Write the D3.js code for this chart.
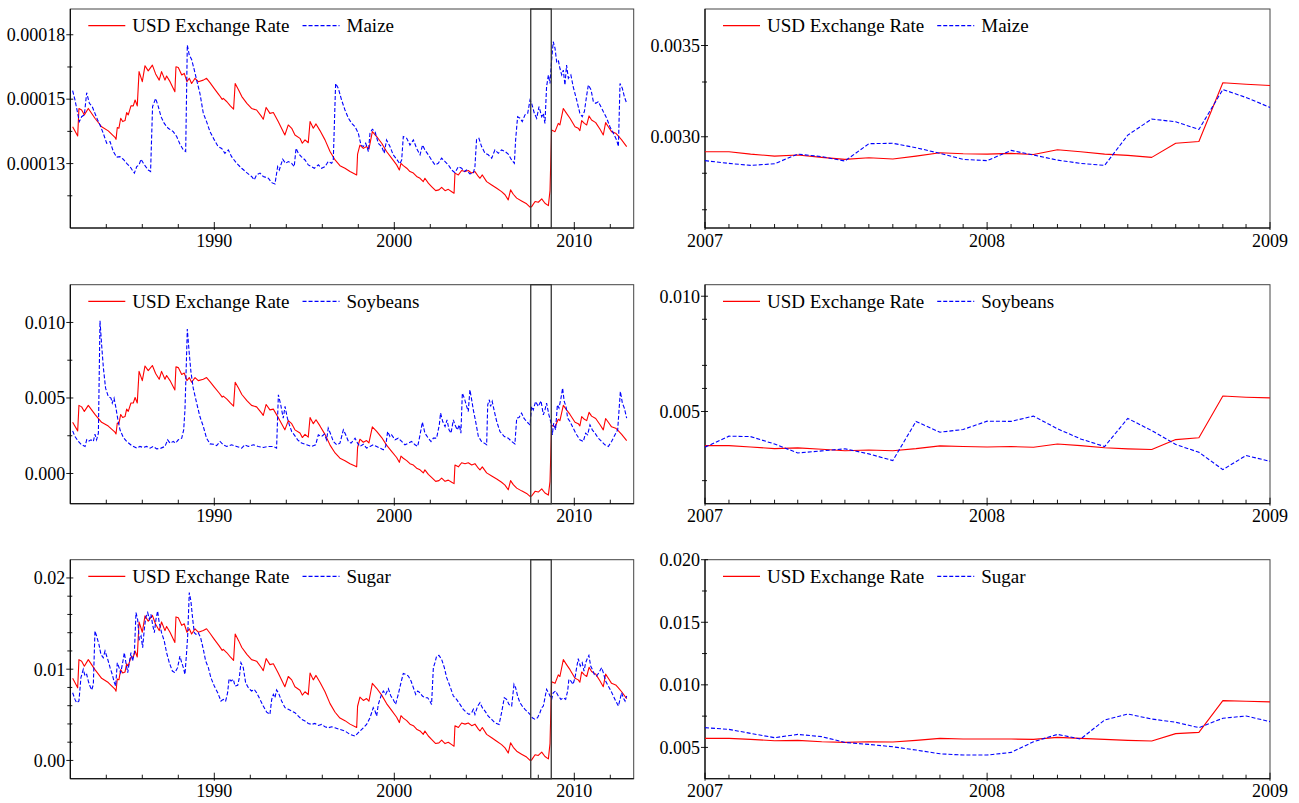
<!DOCTYPE html>
<html>
<head>
<meta charset="utf-8">
<script src="https://cdn.jsdelivr.net/npm/d3@7"></script>
<style>
  body { margin: 0; background: #fff; }
  svg { display: block; font-family: "Liberation Serif", "Times New Roman", serif; }
</style>
</head>
<body>
<svg id="chart" width="1299" height="803"></svg>
<script>
// ---------- Full sample, 1982-2012 (decimal years) ----------
const usdYears = [
  1982.13,1982.41,1982.48,1982.63,1982.78,1983.00,1983.37,1983.74,1984.11,1984.48,
  1984.54,1984.61,1984.70,1984.80,1984.91,1985.04,1985.13,1985.22,1985.37,1985.50,
  1985.60,1985.72,1985.82,1986.00,1986.15,1986.33,1986.56,1986.74,1986.94,1987.07,
  1987.26,1987.35,1987.54,1987.81,1987.87,1988.00,1988.19,1988.33,1988.48,1988.61,
  1988.74,1988.93,1989.11,1989.39,1989.57,1989.76,1989.99,1990.27,1990.44,1990.50,
  1990.70,1990.89,1991.07,1991.16,1991.35,1991.53,1991.81,1992.07,1992.35,1992.63,
  1992.72,1992.88,1993.09,1993.28,1993.55,1993.92,1994.11,1994.30,1994.48,1994.76,
  1994.89,1995.04,1995.22,1995.32,1995.50,1995.65,1995.87,1996.15,1996.43,1996.71,
  1996.98,1997.26,1997.54,1997.91,1997.96,1998.09,1998.28,1998.46,1998.59,1998.78,
  1999.02,1999.30,1999.57,1999.85,2000.13,2000.28,2000.37,2000.50,2000.69,2000.87,
  2001.06,2001.24,2001.43,2001.61,2001.70,2001.89,2002.07,2002.30,2002.48,2002.63,
  2002.82,2003.00,2003.19,2003.32,2003.37,2003.56,2003.74,2003.93,2004.11,2004.30,
  2004.48,2004.67,2004.76,2004.89,2005.13,2005.41,2005.69,2005.96,2006.15,2006.33,
  2006.46,2006.61,2006.80,2007.07,2007.35,2007.54,2007.63,2007.82,2008.00,2008.19,
  2008.37,2008.56,2008.65,2008.74,2008.93,2009.11,2009.20,2009.39,2009.57,2009.76,
  2010.04,2010.22,2010.31,2010.41,2010.56,2010.69,2010.82,2010.96,2011.19,2011.43,
  2011.61,2011.74,2011.89,2012.07,2012.30,2012.45,2012.63,2012.91
];

// USD exchange rate on the maize axis (units of 1e-5)
const usdMaize = [
  13.93,13.57,14.64,14.58,14.39,14.64,14.26,13.93,13.77,13.52,
  13.44,13.90,13.87,14.26,14.13,14.17,14.48,14.39,14.74,14.74,
  14.97,14.74,16.07,15.68,16.30,16.10,16.32,15.98,15.74,16.07,
  15.74,15.90,15.68,15.29,16.26,16.23,15.94,16.00,15.68,15.81,
  15.61,15.81,15.68,15.74,15.81,15.64,15.42,15.16,14.99,15.03,
  14.90,14.74,14.61,15.61,15.36,15.10,14.84,14.64,14.58,14.32,
  14.22,14.68,14.45,14.48,14.13,13.61,14.00,13.87,13.61,13.48,
  13.29,13.42,13.31,14.13,13.87,14.04,13.78,13.42,12.97,12.64,
  12.42,12.32,12.19,12.06,12.87,13.22,13.09,13.16,13.06,13.74,
  13.55,13.29,12.97,12.71,12.45,12.25,12.51,12.42,12.32,12.19,
  12.13,12.00,11.93,11.80,11.93,11.74,11.61,11.45,11.48,11.58,
  11.45,11.50,11.41,11.35,12.13,12.06,12.23,12.19,12.23,12.13,
  12.19,12.00,11.93,12.06,11.80,11.67,11.54,11.41,11.29,11.09,
  11.48,11.31,11.16,11.05,10.94,10.81,10.83,11.03,11.00,11.13,
  10.96,10.87,11.45,13.80,13.74,14.06,14.00,14.64,14.45,14.26,
  13.93,13.87,13.78,14.17,14.06,14.00,14.35,14.19,14.09,13.83,
  13.61,14.09,13.93,13.74,13.68,13.57,13.42,13.16
];

// USD exchange rate on the soybeans axis (units of 1e-3)
const usdSoy = [
  3.39,2.82,4.51,4.41,4.11,4.51,3.91,3.39,3.14,2.74,
  2.62,3.34,3.30,3.91,3.71,3.77,4.26,4.11,4.67,4.67,
  5.03,4.67,6.76,6.15,7.12,6.81,7.15,6.62,6.24,6.76,
  6.24,6.49,6.15,5.53,7.06,7.01,6.56,6.65,6.15,6.35,
  6.04,6.35,6.15,6.24,6.35,6.08,5.74,5.33,5.06,5.12,
  4.92,4.67,4.46,6.04,5.64,5.23,4.82,4.51,4.41,4.00,
  3.85,4.57,4.21,4.26,3.71,2.89,3.50,3.30,2.89,2.68,
  2.38,2.59,2.41,3.71,3.30,3.56,3.15,2.59,1.88,1.36,
  1.01,0.85,0.65,0.44,1.72,2.27,2.07,2.18,2.02,3.09,
  2.79,2.38,1.88,1.47,1.06,0.74,1.15,1.01,0.85,0.65,
  0.56,0.35,0.24,0.04,0.24,-0.06,-0.26,-0.52,-0.47,-0.31,
  -0.52,-0.44,-0.58,-0.67,0.56,0.44,0.71,0.65,0.71,0.56,
  0.65,0.35,0.24,0.44,0.04,-0.17,-0.37,-0.58,-0.77,-1.08,
  -0.47,-0.74,-0.97,-1.15,-1.32,-1.52,-1.49,-1.18,-1.23,-1.02,
  -1.29,-1.43,-0.52,3.19,3.09,3.59,3.50,4.51,4.21,3.91,
  3.39,3.30,3.15,3.77,3.59,3.50,4.05,3.80,3.64,3.23,
  2.89,3.64,3.39,3.09,3.00,2.82,2.59,2.18
];

// USD exchange rate on the sugar axis (units of 1e-3)
const usdSugar = [
  9.00,7.96,11.05,10.88,10.33,11.05,9.95,9.00,8.54,7.82,
  7.59,8.92,8.83,9.95,9.58,9.70,10.59,10.33,11.34,11.34,
  12.00,11.34,15.18,14.05,15.84,15.26,15.90,14.92,14.23,15.18,
  14.23,14.69,14.05,12.93,15.73,15.64,14.80,14.98,14.05,14.43,
  13.85,14.43,14.05,14.23,14.43,13.94,13.30,12.55,12.06,12.18,
  11.80,11.34,10.96,13.85,13.13,12.38,11.63,11.05,10.88,10.13,
  9.84,11.17,10.50,10.59,9.58,8.08,9.20,8.83,8.08,7.70,
  7.16,7.53,7.21,9.58,8.83,9.32,8.57,7.53,6.23,5.28,
  4.64,4.36,3.98,3.61,5.94,6.95,6.58,6.78,6.49,8.45,
  7.91,7.16,6.23,5.48,4.73,4.15,4.90,4.64,4.36,3.98,
  3.81,3.43,3.23,2.86,3.23,2.68,2.31,1.85,1.93,2.22,
  1.85,1.99,1.73,1.56,3.81,3.61,4.10,3.98,4.10,3.81,
  3.98,3.43,3.23,3.61,2.86,2.48,2.10,1.73,1.38,0.81,
  1.93,1.44,1.01,0.69,0.37,0.00,0.06,0.63,0.55,0.92,
  0.43,0.17,1.85,8.63,8.45,9.38,9.20,11.05,10.50,9.95,
  9.00,8.83,8.57,9.70,9.38,9.20,10.21,9.75,9.46,8.71,
  8.08,9.46,9.00,8.45,8.28,7.96,7.53,6.78
];

// Maize, [year, value x1e-5]
const maize = [
  [1982.13,15.33],[1982.26,14.97],[1982.41,14.45],[1982.50,14.13],[1982.63,14.32],[1982.78,14.39],
  [1982.91,15.25],[1983.06,14.84],[1983.22,14.71],[1983.37,14.45],[1983.52,14.19],[1983.65,14.00],
  [1983.83,13.68],[1984.02,13.29],[1984.21,13.35],[1984.39,12.97],[1984.57,12.75],[1984.76,12.77],
  [1984.94,12.67],[1985.13,12.51],[1985.32,12.38],[1985.44,12.25],[1985.56,12.13],[1985.69,12.38],
  [1985.82,12.45],[1985.93,12.67],[1986.06,12.51],[1986.19,12.38],[1986.33,12.25],[1986.46,12.19],
  [1986.57,14.71],[1986.74,15.03],[1986.89,14.71],[1987.04,14.32],[1987.22,14.06],[1987.44,13.87],
  [1987.72,13.74],[1987.91,13.55],[1988.09,13.26],[1988.28,13.03],[1988.41,12.97],[1988.50,17.10],
  [1988.61,16.71],[1988.74,16.54],[1988.89,16.13],[1989.02,15.74],[1989.20,15.23],[1989.39,14.45],
  [1989.57,14.13],[1989.76,13.74],[1990.00,13.42],[1990.21,13.16],[1990.41,13.09],[1990.59,12.90],
  [1990.78,13.03],[1990.96,12.77],[1991.24,12.51],[1991.52,12.32],[1991.80,12.15],[1992.07,12.00],
  [1992.22,11.87],[1992.35,12.06],[1992.54,12.13],[1992.72,12.00],[1993.00,11.93],[1993.19,11.76],
  [1993.37,11.71],[1993.52,12.38],[1993.61,12.25],[1993.80,12.67],[1993.96,12.51],[1994.11,12.58],
  [1994.30,12.51],[1994.44,12.38],[1994.54,13.09],[1994.67,12.90],[1994.83,12.77],[1995.04,12.64],
  [1995.22,12.45],[1995.41,12.38],[1995.56,12.32],[1995.78,12.45],[1995.96,12.32],[1996.15,12.38],
  [1996.33,12.58],[1996.52,12.51],[1996.61,12.64],[1996.74,15.61],[1996.89,15.42],[1997.07,14.97],
  [1997.26,14.58],[1997.45,14.26],[1997.65,14.05],[1997.82,13.93],[1998.00,13.68],[1998.15,13.22],
  [1998.28,13.16],[1998.41,13.29],[1998.56,12.97],[1998.65,13.68],[1998.78,13.83],[1998.93,13.74],
  [1999.11,13.29],[1999.30,13.16],[1999.44,12.90],[1999.57,13.42],[1999.76,13.16],[1999.94,12.84],
  [2000.13,12.67],[2000.31,12.49],[2000.41,12.64],[2000.50,13.55],[2000.69,13.48],[2000.87,13.22],
  [2001.06,13.42],[2001.24,13.09],[2001.43,12.84],[2001.57,13.22],[2001.70,13.03],[2001.89,12.84],
  [2002.07,12.64],[2002.26,12.45],[2002.44,12.51],[2002.63,12.71],[2002.82,12.58],[2003.00,12.45],
  [2003.19,12.25],[2003.37,12.15],[2003.56,12.38],[2003.74,12.32],[2003.89,12.19],[2004.02,12.25],
  [2004.20,12.10],[2004.39,12.13],[2004.48,12.38],[2004.57,13.44],[2004.70,13.48],[2004.85,13.16],
  [2005.04,12.90],[2005.22,12.84],[2005.41,12.71],[2005.59,13.03],[2005.78,12.90],[2005.96,13.03],
  [2006.15,12.97],[2006.33,12.87],[2006.52,12.64],[2006.67,12.51],[2006.74,13.42],[2006.85,14.32],
  [2006.98,14.26],[2007.11,14.13],[2007.26,14.39],[2007.41,14.45],[2007.54,14.97],[2007.63,14.84],
  [2007.78,14.45],[2007.91,14.26],[2008.04,14.71],[2008.19,14.32],[2008.28,14.45],[2008.37,14.06],
  [2008.46,15.48],[2008.56,15.94],[2008.65,15.61],[2008.74,16.52],[2008.83,17.23],[2008.93,16.97],
  [2009.02,16.45],[2009.11,16.52],[2009.20,16.20],[2009.30,15.94],[2009.39,16.13],[2009.48,15.55],
  [2009.57,16.32],[2009.67,15.81],[2009.81,15.94],[2009.94,15.48],[2010.13,14.97],[2010.31,14.45],
  [2010.44,14.32],[2010.56,14.52],[2010.69,15.16],[2010.78,15.55],[2010.93,15.36],[2011.06,14.90],
  [2011.19,14.84],[2011.33,14.90],[2011.48,14.71],[2011.61,14.52],[2011.80,14.26],[2011.98,13.93],
  [2012.17,13.68],[2012.35,13.42],[2012.45,13.16],[2012.54,15.61],[2012.67,15.42],[2012.78,15.10],
  [2012.91,14.84]
];

// Soybeans, [year, value x1e-3]
const soybeans = [
  [1982.13,2.82],[1982.26,2.45],[1982.45,2.12],[1982.63,1.90],[1982.82,1.79],[1982.91,2.23],
  [1983.00,2.12],[1983.15,2.23],[1983.28,2.12],[1983.37,2.60],[1983.46,2.23],[1983.56,2.67],
  [1983.65,10.11],[1983.74,8.52],[1983.84,6.97],[1983.96,5.65],[1984.11,5.10],[1984.26,4.99],
  [1984.33,4.66],[1984.43,4.99],[1984.52,4.44],[1984.63,3.66],[1984.76,2.89],[1984.95,2.38],
  [1985.13,2.12],[1985.41,1.85],[1985.69,1.68],[1985.87,1.79],[1986.06,1.72],[1986.24,1.79],
  [1986.43,1.68],[1986.61,1.79],[1986.80,1.63],[1987.04,1.68],[1987.26,1.79],[1987.41,2.23],
  [1987.54,2.01],[1987.72,2.12],[1987.85,2.01],[1988.00,2.23],[1988.19,2.34],[1988.30,2.89],
  [1988.37,4.21],[1988.45,7.42],[1988.50,9.56],[1988.60,8.08],[1988.70,6.75],[1988.83,5.65],
  [1989.02,4.66],[1989.20,3.77],[1989.39,3.11],[1989.57,2.34],[1989.76,1.96],[1989.95,1.94],
  [1990.13,1.85],[1990.32,2.12],[1990.50,1.90],[1990.69,1.79],[1990.96,1.90],[1991.24,1.79],
  [1991.52,1.68],[1991.70,1.90],[1991.89,1.79],[1992.17,1.90],[1992.44,1.79],[1992.72,1.72],
  [1993.00,1.79],[1993.28,1.79],[1993.46,1.68],[1993.56,5.21],[1993.69,4.55],[1993.83,3.66],
  [1993.93,4.44],[1994.06,3.66],[1994.17,3.22],[1994.30,2.78],[1994.44,2.56],[1994.63,2.23],
  [1994.85,2.01],[1995.13,1.90],[1995.41,1.79],[1995.63,1.90],[1995.78,2.56],[1995.96,2.45],
  [1996.11,2.60],[1996.24,2.23],[1996.33,3.00],[1996.48,2.56],[1996.61,2.12],[1996.80,1.90],
  [1996.98,2.01],[1997.17,2.89],[1997.30,2.56],[1997.45,2.12],[1997.60,2.01],[1997.82,2.34],
  [1997.96,2.01],[1998.09,1.79],[1998.28,1.94],[1998.46,1.68],[1998.65,1.79],[1998.83,1.90],
  [1999.02,1.79],[1999.20,1.68],[1999.39,1.57],[1999.52,1.79],[1999.63,2.78],[1999.76,2.45],
  [1999.85,2.56],[2000.04,2.23],[2000.22,2.34],[2000.41,2.12],[2000.59,1.90],[2000.78,2.01],
  [2000.96,2.12],[2001.15,1.90],[2001.30,1.79],[2001.43,2.56],[2001.56,3.40],[2001.70,2.67],
  [2001.89,2.34],[2002.04,2.12],[2002.17,2.34],[2002.35,2.34],[2002.50,3.22],[2002.57,4.00],
  [2002.69,3.44],[2002.82,3.11],[2002.93,3.55],[2003.04,2.89],[2003.15,2.67],[2003.28,3.55],
  [2003.37,3.22],[2003.50,2.89],[2003.61,3.22],[2003.70,2.67],[2003.78,5.32],[2003.89,4.99],
  [2004.02,4.44],[2004.11,4.10],[2004.20,5.54],[2004.30,4.88],[2004.39,4.21],[2004.52,3.44],
  [2004.67,2.45],[2004.85,2.12],[2005.00,2.01],[2005.13,1.90],[2005.19,4.55],[2005.28,4.88],
  [2005.35,4.44],[2005.44,4.77],[2005.56,4.10],[2005.69,3.44],[2005.87,2.78],[2006.11,2.45],
  [2006.33,2.34],[2006.52,2.12],[2006.70,1.96],[2006.80,3.66],[2006.93,3.71],[2007.07,4.00],
  [2007.20,3.66],[2007.35,3.44],[2007.54,3.22],[2007.63,4.44],[2007.72,4.21],[2007.85,4.77],
  [2008.00,4.44],[2008.15,4.81],[2008.28,3.88],[2008.37,4.21],[2008.46,4.66],[2008.59,3.88],
  [2008.69,3.44],[2008.78,2.56],[2008.85,3.33],[2008.96,2.89],[2009.06,4.55],[2009.15,4.33],
  [2009.26,4.99],[2009.35,5.65],[2009.44,4.77],[2009.54,4.44],[2009.63,3.66],[2009.76,3.44],
  [2009.94,3.00],[2010.13,2.56],[2010.31,2.23],[2010.50,2.12],[2010.63,2.67],[2010.74,2.56],
  [2010.87,3.22],[2011.00,2.89],[2011.15,2.67],[2011.33,2.34],[2011.52,2.12],[2011.70,1.90],
  [2011.89,1.79],[2012.07,2.12],[2012.26,2.56],[2012.41,2.89],[2012.48,4.10],[2012.56,5.43],
  [2012.67,4.66],[2012.78,4.33],[2012.91,3.66]
];

// Sugar, [year, value x1e-3]
const sugar = [
  [1982.13,7.42],[1982.26,6.69],[1982.35,6.33],[1982.48,6.51],[1982.59,9.07],[1982.72,9.98],
  [1982.82,9.25],[1982.91,9.43],[1983.00,8.70],[1983.09,8.15],[1983.19,7.72],[1983.28,8.34],
  [1983.37,14.19],[1983.46,13.64],[1983.59,12.72],[1983.70,11.63],[1983.83,11.26],[1983.93,11.99],
  [1984.08,11.08],[1984.21,10.17],[1984.33,9.43],[1984.45,8.52],[1984.52,8.15],[1984.61,10.71],
  [1984.71,10.17],[1984.80,9.62],[1984.91,10.71],[1985.00,11.81],[1985.09,10.71],[1985.19,9.62],
  [1985.26,10.53],[1985.37,11.81],[1985.46,10.90],[1985.56,11.81],[1985.65,16.20],[1985.74,15.47],
  [1985.83,13.27],[1985.93,13.64],[1986.02,12.36],[1986.11,14.37],[1986.19,15.65],[1986.30,16.20],
  [1986.39,15.47],[1986.48,16.01],[1986.57,14.92],[1986.67,14.00],[1986.76,15.47],[1986.85,16.38],
  [1986.94,15.10],[1987.07,14.00],[1987.22,13.09],[1987.35,11.81],[1987.50,10.71],[1987.67,9.80],
  [1987.81,9.62],[1987.96,10.17],[1988.09,11.44],[1988.19,10.71],[1988.28,10.17],[1988.37,9.43],
  [1988.46,11.81],[1988.52,13.64],[1988.61,18.39],[1988.70,17.48],[1988.80,15.47],[1988.89,14.00],
  [1988.98,13.82],[1989.11,14.00],[1989.24,13.46],[1989.39,12.18],[1989.52,10.90],[1989.67,10.17],
  [1989.81,9.07],[1990.00,8.15],[1990.19,7.42],[1990.37,6.51],[1990.50,6.69],[1990.63,6.51],
  [1990.74,7.42],[1990.82,8.96],[1990.93,8.70],[1991.06,8.89],[1991.15,8.15],[1991.30,8.23],
  [1991.39,9.07],[1991.48,10.71],[1991.61,10.17],[1991.74,8.52],[1991.89,7.97],[1992.07,7.61],
  [1992.22,7.79],[1992.35,7.42],[1992.54,6.69],[1992.72,5.96],[1992.91,5.30],[1993.09,5.05],
  [1993.19,6.69],[1993.28,7.24],[1993.37,6.87],[1993.46,7.72],[1993.56,7.42],[1993.74,6.51],
  [1993.93,5.78],[1994.11,5.60],[1994.30,5.41],[1994.48,5.23],[1994.67,4.86],[1994.85,4.50],
  [1995.04,4.32],[1995.22,4.06],[1995.41,3.95],[1995.59,4.06],[1995.78,3.84],[1995.96,3.95],
  [1996.15,3.69],[1996.33,3.58],[1996.52,3.69],[1996.70,3.58],[1996.98,3.40],[1997.26,3.22],
  [1997.54,2.85],[1997.82,2.67],[1998.00,3.04],[1998.28,3.58],[1998.46,3.95],[1998.65,4.68],
  [1998.83,5.78],[1998.93,5.41],[1999.02,4.86],[1999.11,6.14],[1999.26,7.06],[1999.39,7.61],
  [1999.52,7.24],[1999.67,7.86],[1999.81,7.06],[1999.94,6.69],[2000.07,6.14],[2000.22,7.24],
  [2000.37,8.52],[2000.50,9.54],[2000.63,9.43],[2000.78,9.25],[2000.93,8.70],[2001.06,7.97],
  [2001.19,7.24],[2001.30,7.61],[2001.43,7.42],[2001.56,7.06],[2001.70,6.87],[2001.85,6.87],
  [2001.98,6.51],[2002.07,6.14],[2002.17,10.17],[2002.26,10.71],[2002.35,11.44],[2002.48,11.52],
  [2002.63,11.08],[2002.78,10.17],[2002.91,9.07],[2003.09,8.15],[2003.28,7.06],[2003.46,6.69],
  [2003.65,6.14],[2003.83,5.60],[2004.02,5.23],[2004.15,5.05],[2004.30,5.23],[2004.39,5.60],
  [2004.48,5.05],[2004.63,5.96],[2004.76,6.33],[2004.89,5.78],[2005.04,5.41],[2005.22,4.86],
  [2005.41,4.50],[2005.59,4.13],[2005.82,3.95],[2005.96,5.23],[2006.11,6.87],[2006.24,6.69],
  [2006.37,6.14],[2006.52,5.96],[2006.65,8.34],[2006.74,7.97],[2006.85,7.06],[2006.98,6.33],
  [2007.11,5.96],[2007.26,5.60],[2007.41,5.30],[2007.54,5.05],[2007.67,4.68],[2007.82,4.50],
  [2007.96,4.68],[2008.09,5.23],[2008.19,5.78],[2008.28,5.96],[2008.37,6.87],[2008.46,7.79],
  [2008.56,7.42],[2008.65,7.06],[2008.74,6.69],[2008.83,7.42],[2008.96,7.61],[2009.11,7.06],
  [2009.26,6.69],[2009.39,6.87],[2009.52,6.69],[2009.63,7.61],[2009.70,8.89],[2009.81,8.70],
  [2009.93,8.34],[2010.04,9.07],[2010.13,10.17],[2010.22,11.15],[2010.33,10.35],[2010.44,10.71],
  [2010.54,9.80],[2010.63,10.71],[2010.74,11.26],[2010.81,11.52],[2010.91,10.35],[2011.00,9.98],
  [2011.11,9.43],[2011.24,9.25],[2011.37,9.62],[2011.52,10.17],[2011.61,9.62],[2011.74,8.70],
  [2011.89,8.15],[2012.04,7.61],[2012.17,7.06],[2012.30,6.51],[2012.45,5.96],[2012.54,6.69],
  [2012.63,7.42],[2012.72,6.87],[2012.82,6.51],[2012.91,7.06]
];

// Highlighted 2007-2008 window on the full-sample panels
const crisisWindow = [2007.58, 2008.72];

// ---------- Detail window, monthly 2007-01 .. 2009-01 ----------
const zoomMonths = [
  "2007-01","2007-02","2007-03","2007-04","2007-05","2007-06","2007-07","2007-08","2007-09",
  "2007-10","2007-11","2007-12","2008-01","2008-02","2008-03","2008-04","2008-05","2008-06",
  "2008-07","2008-08","2008-09","2008-10","2008-11","2008-12","2009-01"
];
// units of 1e-4
const usdMaizeZoom = [29.18,29.18,29.05,28.94,29.00,28.87,28.76,28.85,28.78,28.94,29.12,29.07,29.05,
                      29.09,29.03,29.29,29.18,29.05,28.98,28.87,29.64,29.74,32.96,32.88,32.81];
const maizeZoom    = [28.69,28.54,28.43,28.52,29.05,28.91,28.67,29.62,29.64,29.40,29.09,28.76,28.69,
                      29.25,29.00,28.72,28.54,28.43,30.09,30.97,30.82,30.40,32.59,32.15,31.61];
// units of 1e-3
const usdSoyZoom   = [3.52,3.52,3.46,3.39,3.42,3.36,3.30,3.33,3.30,3.39,3.51,3.48,3.46,
                      3.48,3.45,3.59,3.52,3.43,3.38,3.35,3.78,3.86,5.67,5.62,5.59];
const soybeansZoom = [3.45,3.93,3.91,3.59,3.20,3.29,3.38,3.16,2.87,4.57,4.10,4.22,4.58,
                      4.57,4.80,4.25,3.81,3.48,4.70,4.17,3.57,3.23,2.48,3.09,2.84];
const usdSugarZoom = [5.72,5.72,5.64,5.53,5.56,5.45,5.40,5.45,5.43,5.56,5.72,5.67,5.67,
                      5.67,5.64,5.80,5.72,5.64,5.56,5.51,6.10,6.20,8.74,8.69,8.64];
const sugarZoom    = [6.58,6.44,6.12,5.78,6.04,5.86,5.40,5.24,5.05,4.79,4.49,4.39,4.39,
                      4.60,5.45,6.04,5.67,7.19,7.67,7.27,7.01,6.58,7.33,7.51,7.06];

// ---------- Axis ticks (in the units of each panel) ----------
const fullYearMajor = [1990, 2000, 2010];
const fullYearMinor = [1984, 1986, 1988, 1992, 1994, 1996, 1998, 2002, 2004, 2006, 2008, 2012];
const zoomYearLabels = ["2007", "2008", "2009"];

const maizeTicks = [12.5, 15, 17.5];
const maizeTickLabels = ["0.00013", "0.00015", "0.00018"];
const maizeMinor = [11.25, 13.75, 16.25];
const soyTicks = [0, 5, 10];
const soyTickLabels = ["0.000", "0.005", "0.010"];
const soyMinor = [2.5, 7.5];
const sugarTicks = [0, 10, 20];
const sugarTickLabels = ["0.00", "0.01", "0.02"];
const sugarMinor = [2, 4, 6, 8, 12, 14, 16, 18];

const maizeZoomTicks = [30, 35];
const maizeZoomTickLabels = ["0.0030", "0.0035"];
const maizeZoomMinor = [26, 28, 33];
const soyZoomTicks = [5, 10];
const soyZoomTickLabels = ["0.005", "0.010"];
const soyZoomMinor = [2, 6, 7, 9];
const sugarZoomTicks = [5, 10, 15, 20];
const sugarZoomTickLabels = ["0.005", "0.010", "0.015", "0.020"];
const sugarZoomMinor = [7.5, 12.5, 17.5];

// ---------- Layout ----------
const leftRange = [70.3, 633.7];
const rightRange = [705, 1270];
const rowTops = [9, 284.7, 559.7];
const rowHeight = 219;
const fullYearDomain = [1982, 2013.3];
const parseMonth = d3.timeParse("%Y-%m");
const zoomDates = zoomMonths.map(parseMonth);

const RED = "#ff0000", BLUE = "#0000ff";

const panels = [
  { row: 0, full: true,  name: "Maize",    yDomain: [10, 18.5],
    usd: d3.zip(usdYears, usdMaize), comm: maize,
    ticks: maizeTicks, labels: maizeTickLabels, minor: maizeMinor },
  { row: 0, full: false, name: "Maize",    yDomain: [25, 37],
    usd: d3.zip(zoomDates, usdMaizeZoom), comm: d3.zip(zoomDates, maizeZoom),
    ticks: maizeZoomTicks, labels: maizeZoomTickLabels, minor: maizeZoomMinor },
  { row: 1, full: true,  name: "Soybeans", yDomain: [-2, 12.5],
    usd: d3.zip(usdYears, usdSoy), comm: soybeans,
    ticks: soyTicks, labels: soyTickLabels, minor: soyMinor },
  { row: 1, full: false, name: "Soybeans", yDomain: [1, 10.5],
    usd: d3.zip(zoomDates, usdSoyZoom), comm: d3.zip(zoomDates, soybeansZoom),
    ticks: soyZoomTicks, labels: soyZoomTickLabels, minor: soyZoomMinor },
  { row: 2, full: true,  name: "Sugar",    yDomain: [-2, 22],
    usd: d3.zip(usdYears, usdSugar), comm: sugar,
    ticks: sugarTicks, labels: sugarTickLabels, minor: sugarMinor },
  { row: 2, full: false, name: "Sugar",    yDomain: [2.5, 20],
    usd: d3.zip(zoomDates, usdSugarZoom), comm: d3.zip(zoomDates, sugarZoom),
    ticks: sugarZoomTicks, labels: sugarZoomTickLabels, minor: sugarZoomMinor }
];

const svg = d3.select("#chart");
const defs = svg.append("defs");

panels.forEach((p, i) => {
  const top = rowTops[p.row];
  const bottom = top + rowHeight;
  const [left, right] = p.full ? leftRange : rightRange;

  const x = p.full
    ? d3.scaleLinear().domain(fullYearDomain).range([left, right])
    : d3.scaleTime().domain([zoomDates[0], zoomDates[zoomDates.length - 1]]).range([left, right]);
  const y = d3.scaleLinear().domain(p.yDomain).range([bottom, top]);

  const g = svg.append("g");

  defs.append("clipPath").attr("id", "clip" + i)
    .append("rect").attr("x", left).attr("y", top)
    .attr("width", right - left).attr("height", bottom - top);

  // frame
  g.append("rect")
    .attr("x", left).attr("y", top)
    .attr("width", right - left).attr("height", bottom - top)
    .attr("fill", "none").attr("stroke", "#444").attr("stroke-width", 1);
  g.append("line").attr("x1", left).attr("x2", left).attr("y1", top).attr("y2", bottom)
    .attr("stroke", "#000").attr("stroke-width", 1.1);
  g.append("line").attr("x1", left).attr("x2", right).attr("y1", bottom).attr("y2", bottom)
    .attr("stroke", "#000").attr("stroke-width", 1.1);

  // x ticks
  let majors, minors, majorLabels;
  if (p.full) {
    majors = fullYearMajor;
    minors = fullYearMinor;
    majorLabels = fullYearMajor.map(String);
  } else {
    majors = zoomYearLabels.map(s => parseMonth(s + "-01"));
    minors = zoomDates.filter(d => d.getMonth() !== 0);
    majorLabels = zoomYearLabels;
  }
  g.selectAll(null).data(minors).join("line")
    .attr("x1", d => x(d)).attr("x2", d => x(d))
    .attr("y1", bottom).attr("y2", bottom - 4)
    .attr("stroke", "#000").attr("stroke-width", 0.9);
  g.selectAll(null).data(majors).join("line")
    .attr("x1", d => x(d)).attr("x2", d => x(d))
    .attr("y1", bottom + 2).attr("y2", bottom - 6)
    .attr("stroke", "#000").attr("stroke-width", 0.9);
  g.selectAll(null).data(majors).join("text")
    .attr("x", d => x(d)).attr("y", bottom + 18.5)
    .attr("text-anchor", "middle").attr("font-size", 18).attr("fill", "#000")
    .text((d, k) => majorLabels[k]);

  // y ticks
  g.selectAll(null).data(p.minor).join("line")
    .attr("x1", left - 3).attr("x2", left + 2)
    .attr("y1", d => y(d)).attr("y2", d => y(d))
    .attr("stroke", "#000").attr("stroke-width", 0.9);
  g.selectAll(null).data(p.ticks).join("line")
    .attr("x1", left - 4).attr("x2", left + 3)
    .attr("y1", d => y(d)).attr("y2", d => y(d))
    .attr("stroke", "#000").attr("stroke-width", 0.9);
  g.selectAll(null).data(p.ticks).join("text")
    .attr("x", left - 5).attr("y", d => y(d)).attr("dy", "0.35em")
    .attr("text-anchor", "end").attr("font-size", 18).attr("fill", "#000")
    .text((d, k) => p.labels[k]);

  // series
  const line = d3.line().x(d => x(d[0])).y(d => y(d[1]));
  const plot = g.append("g").attr("clip-path", `url(#clip${i})`);
  plot.append("path").datum(p.usd).attr("d", line)
    .attr("fill", "none").attr("stroke", RED).attr("stroke-width", 1.1)
    .attr("stroke-linejoin", "round");
  plot.append("path").datum(p.comm).attr("d", line)
    .attr("fill", "none").attr("stroke", BLUE).attr("stroke-width", 1.1)
    .attr("stroke-dasharray", "4,2");

  // highlighted window
  if (p.full) {
    g.append("rect")
      .attr("x", x(crisisWindow[0])).attr("y", top)
      .attr("width", x(crisisWindow[1]) - x(crisisWindow[0]))
      .attr("height", bottom - top)
      .attr("fill", "none").attr("stroke", "#333").attr("stroke-width", 1.3);
  }

  // legend
  const lx = left + 18, ly = top + 16.7, tb = top + 23.3;
  g.append("line").attr("x1", lx).attr("x2", lx + 37).attr("y1", ly).attr("y2", ly)
    .attr("stroke", RED).attr("stroke-width", 1.2);
  const t1 = g.append("text").attr("x", lx + 44).attr("y", tb)
    .attr("font-size", 19).attr("fill", "#000").text("USD Exchange Rate");
  const bx = lx + 44 + t1.node().getComputedTextLength() + 13;
  g.append("line").attr("x1", bx).attr("x2", bx + 37).attr("y1", ly).attr("y2", ly)
    .attr("stroke", BLUE).attr("stroke-width", 1.2).attr("stroke-dasharray", "4,2");
  g.append("text").attr("x", bx + 44).attr("y", tb)
    .attr("font-size", 19).attr("fill", "#000").text(p.name);
});
</script>
</body>
</html>
